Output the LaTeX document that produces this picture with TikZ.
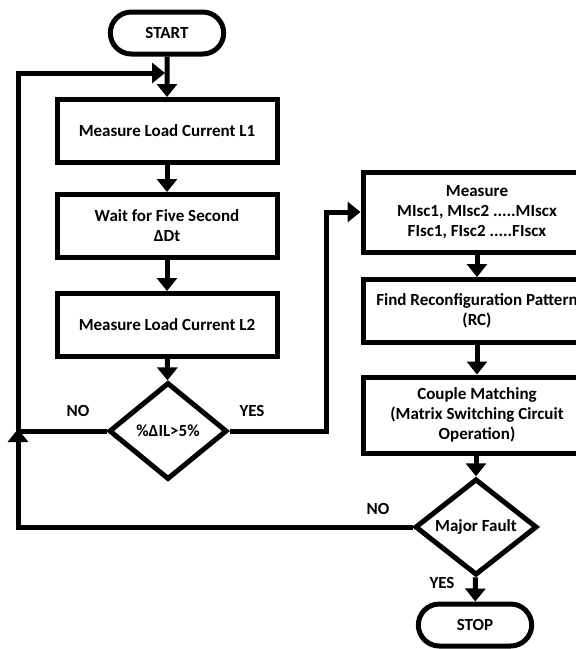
\documentclass[tikz,border=0pt]{standalone}
\usepackage{fontspec}
\setmainfont{Carlito}
\usetikzlibrary{shapes.geometric,shapes.misc,arrows.meta}

\tikzset{
  procbox/.style={draw,line width=5pt,rectangle,align=center,inner sep=2pt},
  termbox/.style={draw,line width=5pt,rounded rectangle,minimum width=120pt,minimum height=42pt},
  testbox/.style={draw,line width=5pt,diamond,inner sep=0pt,align=center},
  flow/.style={line width=5pt,-{Triangle[length=13pt,width=20pt]}},
  plain/.style={line width=5pt}
}

\begin{document}
\begin{tikzpicture}[x=1pt,y=-1pt,font=\fontsize{17}{20}\selectfont\bfseries]
        \useasboundingbox (0,0) rectangle (576,649);

        \node[termbox] (start) at (167,33) {START};
        \node[procbox,minimum width=220pt,minimum height=63pt] (measA) at (167,131) {Measure Load Current L1};
        \node[procbox,minimum width=220pt,minimum height=63pt] (waitDt) at (167,226) {Wait for Five Second\\ΔDt};
        \node[procbox,minimum width=220pt,minimum height=63pt] (measB) at (167,325) {Measure Load Current L2};
        \node[testbox,minimum width=118pt,minimum height=97pt] (checkDI) at (168,431) {\%ΔIL>5\%};

        \node[procbox,minimum width=228pt,minimum height=80pt] (measIsc) at (477,212) {Measure\\MIsc1, MIsc2 .....MIscx\\FIsc1, FIsc2 .....FIscx};
        \node[procbox,minimum width=228pt,minimum height=63pt] (findRC) at (477,311) {Find Reconfiguration Pattern\\(RC)};
        \node[procbox,minimum width=228pt,minimum height=76pt] (couple) at (477,415) {Couple Matching\\(Matrix Switching Circuit\\Operation)};
        \node[testbox,minimum width=122pt,minimum height=93pt] (fault) at (476,527) {Major Fault};
        \node[termbox] (stop) at (475,625) {STOP};

        \coordinate (loopin) at (167,73);
        \coordinate (rail) at (18,0);
        \coordinate (yesrail) at (326,0);

        \draw[flow] (start) -- (measA);
        \draw[flow] (measA) -- (waitDt);
        \draw[flow] (waitDt) -- (measB);
        \draw[flow] (measB) -- (checkDI);
        \draw[flow] (checkDI.west) -- (checkDI.west -| rail) |- ([xshift=-2pt]loopin);
        \draw[flow] (checkDI.east) -- (checkDI.east -| yesrail) |- (measIsc.west);
        \draw[flow] (measIsc.south -| findRC) -- (findRC);
        \draw[flow] (findRC) -- (couple);
        \draw[flow] (couple.south -| fault) -- (fault);
        \draw[flow] (fault.west) -- (fault.west -| rail) -- ([yshift=2pt]checkDI.west -| rail);
        \draw[flow] (fault) -- (stop);

        \node at (78,411) {NO};
        \node at (252,411) {YES};
        \node at (378,509) {NO};
        \node at (442,583) {YES};
\end{tikzpicture}
\end{document}
